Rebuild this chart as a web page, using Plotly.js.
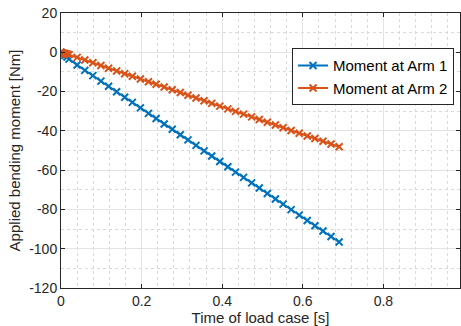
<!DOCTYPE html>
<html>
<head>
<meta charset="utf-8">
<script src="https://cdn.plot.ly/plotly-3.0.1.min.js"></script>
<style>html,body{margin:0;padding:0;background:#fff;}#chart{width:461px;height:326px;}</style>
</head>
<body>
<div id="chart"></div>
<script>
var timeS = [0, 0.005, 0.01, 0.015, 0.02, 0.040, 0.059, 0.079, 0.099, 0.118, 0.138, 0.158, 0.177, 0.197, 0.217, 0.236, 0.256, 0.276, 0.296, 0.315, 0.335, 0.355, 0.374, 0.394, 0.414, 0.433, 0.453, 0.473, 0.492, 0.512, 0.532, 0.551, 0.571, 0.591, 0.611, 0.630, 0.650, 0.670, 0.690];
var momentArm1 = [0, -0.9, -1.6, -2.4, -3.5, -6.5, -9.2, -11.9, -14.7, -17.3, -20.1, -22.9, -25.5, -28.3, -31.1, -33.7, -36.5, -39.2, -42.0, -44.6, -47.4, -50.2, -52.8, -55.6, -58.3, -61.0, -63.7, -66.5, -69.1, -71.9, -74.7, -77.3, -80.1, -82.9, -85.6, -88.3, -91.0, -93.8, -96.6];
var momentArm2 = [0, -0.3, -0.6, -0.9, -1.2, -2.6, -3.9, -5.3, -6.7, -8.1, -9.5, -10.9, -12.2, -13.6, -15.0, -16.3, -17.7, -19.1, -20.5, -21.9, -23.3, -24.7, -26.0, -27.4, -28.8, -30.1, -31.5, -32.9, -34.2, -35.6, -37.0, -38.4, -39.8, -41.2, -42.6, -43.9, -45.3, -46.7, -48.1];
var seriesNames = ["Moment at Arm 1", "Moment at Arm 2"];
var xTicks = [0, 0.2, 0.4, 0.6, 0.8];
var yTicks = [-120, -100, -80, -60, -40, -20, 0, 20];

var font = "Liberation Sans, Arial, Helvetica, sans-serif";
var txt = "#262626";

var traces = [
  {x: timeS, y: momentArm1, name: seriesNames[0], type: "scatter", mode: "lines+markers",
   line: {color: "#0072BD", width: 2}, marker: {symbol: "x-thin", size: 7, line: {color: "#0072BD", width: 2}}},
  {x: timeS, y: momentArm2, name: seriesNames[1], type: "scatter", mode: "lines+markers",
   line: {color: "#D95319", width: 2}, marker: {symbol: "x-thin", size: 7, line: {color: "#D95319", width: 2}}}
];

var axisCommon = {
  showline: true, linecolor: "#262626", linewidth: 1, mirror: "ticks",
  ticks: "inside", ticklen: 4, tickcolor: "#262626",
  showgrid: true, gridcolor: "#e3e3e3", gridwidth: 1,
  zeroline: false,
  tickfont: {family: font, size: 14, color: txt}
};

var layout = {
  width: 461, height: 326,
  margin: {l: 61, r: 1, t: 13, b: 38},
  paper_bgcolor: "#fff", plot_bgcolor: "#fff",
  showlegend: true,
  legend: {x: 0.579, y: 0.872, xanchor: "left", yanchor: "top",
           bgcolor: "#fff", bordercolor: "#262626", borderwidth: 1,
           font: {family: font, size: 15, color: "#000"},
           tracegroupgap: 0, itemwidth: 30},
  xaxis: Object.assign({}, axisCommon, {
    range: [0, 0.99], tickmode: "array", tickvals: xTicks, ticktext: xTicks.map(String),
    minor: {dtick: 0.04, tick0: 0, showgrid: true, gridcolor: "#dadada", griddash: "dot", gridwidth: 1, ticks: ""},
    title: {text: "Time of load case [s]", standoff: 3, font: {family: font, size: 15, color: txt}}
  }),
  yaxis: Object.assign({}, axisCommon, {
    range: [-120, 20], tickmode: "array", tickvals: yTicks, ticktext: yTicks.map(String),
    minor: {dtick: 10, tick0: 0, showgrid: true, gridcolor: "#dadada", griddash: "dot", gridwidth: 1, ticks: ""},
    title: {text: "Applied bending moment [Nm]", standoff: 4, font: {family: font, size: 15, color: txt}}
  })
};

Plotly.newPlot("chart", traces, layout, {displayModeBar: false, staticPlot: true});
</script>
</body>
</html>
